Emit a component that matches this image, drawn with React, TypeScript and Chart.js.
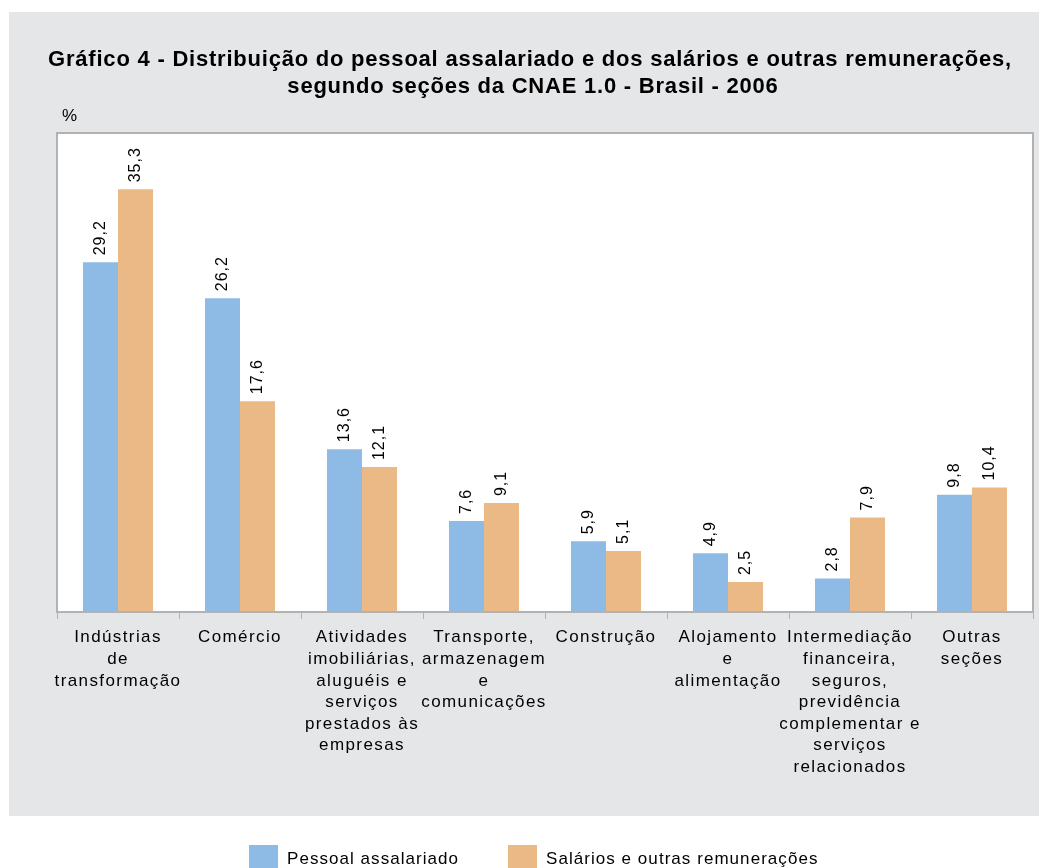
import React, { useEffect, useRef } from "react";
import { Chart, registerables } from "chart.js";

Chart.register(...registerables);

const categories: string[][] = [
  ["Indústrias", "de", "transformação"],
  ["Comércio"],
  ["Atividades", "imobiliárias,", "aluguéis e", "serviços", "prestados às", "empresas"],
  ["Transporte,", "armazenagem", "e", "comunicações"],
  ["Construção"],
  ["Alojamento", "e", "alimentação"],
  ["Intermediação", "financeira,", "seguros,", "previdência", "complementar e", "serviços", "relacionados"],
  ["Outras", "seções"],
];
const pessoal = [29.2, 26.2, 13.6, 7.6, 5.9, 4.9, 2.8, 9.8];
const salarios = [35.3, 17.6, 12.1, 9.1, 5.1, 2.5, 7.9, 10.4];
const seriesNames = ["Pessoal assalariado", "Salários e outras remunerações"];
const titleLines = [
  "Gráfico 4 - Distribuição do pessoal assalariado e dos salários e outras remunerações,",
  "segundo seções da CNAE 1.0 - Brasil - 2006",
];
const unitLabel = "%";

const BLUE = "#8dbbe6";
const ORANGE = "#ebb985";
const GREY = "#e5e6e8";
const FONT = "'Liberation Sans', Arial, sans-serif";

const decor = {
  id: "decor",
  beforeDraw(chart: any) {
    const { ctx, chartArea } = chart;
    ctx.save();
    ctx.fillStyle = "#ffffff";
    ctx.fillRect(0, 0, chart.width, chart.height);
    ctx.fillStyle = GREY;
    ctx.fillRect(9, 12, 1030, 804);
    ctx.fillStyle = "#ffffff";
    ctx.fillRect(chartArea.left, chartArea.top, chartArea.right - chartArea.left, chartArea.bottom - chartArea.top);
    // title
    ctx.fillStyle = "#000";
    ctx.font = `bold 22px ${FONT}`;
    ctx.letterSpacing = "0.78px";
    ctx.textAlign = "center";
    ctx.textBaseline = "middle";
    ctx.fillText(titleLines[0], 530, 60);
    ctx.fillText(titleLines[1], 533, 87);
    ctx.font = `17px ${FONT}`;
    ctx.letterSpacing = "1px";
    ctx.textAlign = "left";
    ctx.fillText(unitLabel, 62, 116);
    // legend
    const items = [
      { x: 249, color: BLUE, text: seriesNames[0] },
      { x: 508, color: ORANGE, text: seriesNames[1] },
    ];
    ctx.font = `17px ${FONT}`;
    ctx.letterSpacing = "1.05px";
    for (const it of items) {
      ctx.fillStyle = it.color;
      ctx.fillRect(it.x, 845, 29, 24);
      ctx.fillStyle = "#000";
      ctx.fillText(it.text, it.x + 38, 859);
    }
    ctx.restore();
    // wider spacing for the category labels drawn by the scale
    ctx.letterSpacing = "1.4px";
  },
  afterDraw(chart: any) {
    const { ctx, chartArea } = chart;
    ctx.save();
    ctx.strokeStyle = "#b2b2b2";
    ctx.lineWidth = 2;
    ctx.strokeRect(chartArea.left, chartArea.top, chartArea.right - chartArea.left, chartArea.bottom - chartArea.top);
    ctx.restore();
  },
  afterDatasetsDraw(chart: any) {
    const { ctx } = chart;
    ctx.save();
    ctx.fillStyle = "#000";
    ctx.font = `16px ${FONT}`;
    ctx.letterSpacing = "1px";
    ctx.textAlign = "left";
    ctx.textBaseline = "middle";
    chart.data.datasets.forEach((ds: any, i: number) => {
      const meta = chart.getDatasetMeta(i);
      meta.data.forEach((bar: any, j: number) => {
        const v = ds.data[j] as number;
        ctx.save();
        ctx.translate(bar.x, bar.y - 7);
        ctx.rotate(-Math.PI / 2);
        ctx.fillText(v.toFixed(1).replace(".", ","), 0, 0);
        ctx.restore();
      });
    });
    ctx.restore();
  },
};

export default function App() {
  const ref = useRef<HTMLCanvasElement | null>(null);
  useEffect(() => {
    if (!ref.current) return;
    const chart = new Chart(ref.current, {
      type: "bar",
      data: {
        labels: categories,
        datasets: [
          { label: seriesNames[0], data: pessoal, backgroundColor: BLUE },
          { label: seriesNames[1], data: salarios, backgroundColor: ORANGE },
        ],
      },
      options: {
        animation: false,
        responsive: false,
        layout: { padding: { left: 57, right: 14, top: 133, bottom: 0 } },
        plugins: { legend: { display: false }, title: { display: false }, tooltip: { enabled: false } },
        datasets: { bar: { categoryPercentage: 0.574, barPercentage: 1 } },
        scales: {
          x: {
            grid: { offset: true, drawOnChartArea: false, tickLength: 7, color: "#b2b2b2", lineWidth: 1 },
            border: { display: false },
            ticks: {
              color: "#000",
              font: { family: FONT, size: 17, lineHeight: 1.27 },
              padding: 8,
              maxRotation: 0,
              autoSkip: false,
            },
            afterFit(scale: any) {
              scale.height = 256;
            },
          },
          y: { display: false, min: 0, max: 40 },
        },
      },
      plugins: [decor],
    });
    return () => chart.destroy();
  }, []);
  return (
    <div style={{ position: "fixed", left: 0, top: 0, width: 1047, height: 868 }}>
      <canvas ref={ref} width={1047} height={868} style={{ display: "block" }} />
    </div>
  );
}
